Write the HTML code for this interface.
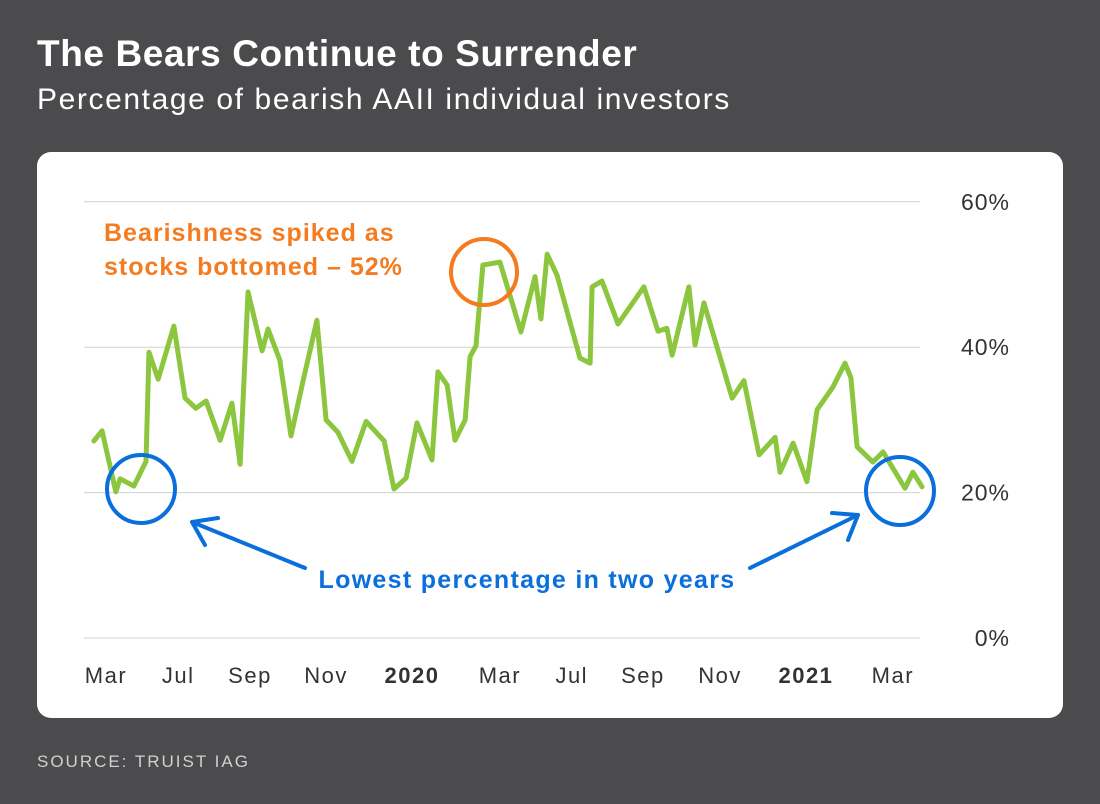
<!DOCTYPE html>
<html><head><meta charset="utf-8"><style>
body{margin:0;width:1100px;height:804px;background:#4b4b4d;font-family:"Liberation Sans",sans-serif;overflow:hidden;position:relative}
#title{position:absolute;left:37px;top:33px;color:#fff;font-size:37px;font-weight:bold;margin:0;letter-spacing:0.6px}
#sub{position:absolute;left:37px;top:83px;color:#fff;font-size:30px;letter-spacing:1.6px}
#card{position:absolute;left:37px;top:152px;width:1026px;height:566px;background:#fff;border-radius:14px}
#src{position:absolute;left:37px;top:752px;color:#d0d0d0;font-size:17px;letter-spacing:2px}
svg{position:absolute;left:0;top:0}
</style></head><body>
<h1 id="title">The Bears Continue to Surrender</h1>
<div id="sub">Percentage of bearish AAII individual investors</div>
<div id="card"></div>
<div id="src">SOURCE: TRUIST IAG</div>
<svg id="chart" width="1100" height="804"></svg>
<script>
const months=[-0.37,-0.12,0.30,0.43,0.85,1.22,1.31,1.59,2.07,2.41,2.74,3.05,3.48,3.84,4.09,4.33,4.76,4.94,5.30,5.64,6.01,6.43,6.71,7.07,7.50,7.93,8.48,8.78,9.15,9.48,9.94,10.12,10.40,10.64,10.95,11.10,11.28,11.49,12.01,12.65,13.08,13.26,13.45,13.75,14.45,14.76,14.82,15.12,15.61,16.40,16.83,17.10,17.26,17.77,17.96,18.23,19.09,19.45,19.91,20.40,20.55,20.95,21.37,21.68,22.16,22.53,22.71,22.90,23.38,23.69,24.36,24.60,24.88];
const bearish=[27.1,28.5,20.1,21.9,20.9,24.3,39.3,35.6,42.9,33.0,31.6,32.6,27.2,32.3,23.9,47.6,39.5,42.5,38.2,27.8,35.4,43.7,30.0,28.3,24.3,29.8,27.1,20.5,22.0,29.6,24.5,36.6,34.8,27.2,30.0,38.7,40.2,51.3,51.7,42.1,49.7,43.9,52.8,49.9,38.5,37.8,48.3,49.1,43.2,48.3,42.2,42.6,38.9,48.3,40.3,46.1,33.0,35.4,25.2,27.6,22.8,26.8,21.5,31.4,34.5,37.8,35.8,26.3,24.2,25.6,20.6,22.8,20.8];
const yTicks=[0,20,40,60];
const xTickMonths=[0,2.2,4.39,6.71,9.33,12.01,14.2,16.37,18.72,21.34,23.99];
const xTickLabels=["Mar","Jul","Sep","Nov","2020","Mar","Jul","Sep","Nov","2021","Mar"];
const xTickBold=[false,false,false,false,true,false,false,false,false,true,false];
const NS="http://www.w3.org/2000/svg";
const svg=document.getElementById('chart');
const X=m=>106+32.8*m;
const Y=v=>638-7.27*v;
function mk(t,a,p){const e=document.createElementNS(NS,t);for(const k in a)e.setAttribute(k,a[k]);(p||svg).appendChild(e);return e;}
yTicks.forEach(t=>{
 const l=mk('line',{x1:84,x2:920,y1:Y(t),y2:Y(t),stroke:'#d0d0d0','stroke-width':1});
 
 
 const tx=mk('text',{x:1010,y:Y(t)+8,'text-anchor':'end','font-size':23,'letter-spacing':1,fill:'#333'});
 tx.textContent=t+'%';
 
 
});
xTickMonths.forEach((m,i)=>{
 const tx=mk('text',{x:X(m),y:683,'text-anchor':'middle','font-size':22,'letter-spacing':1.5,fill:'#333','font-weight':xTickBold[i]?'bold':'normal'});
 tx.textContent=xTickLabels[i];
 
 
});
const pl=mk('polyline',{points:months.map((m,i)=>X(m)+','+Y(bearish[i])).join(' '),fill:'none',stroke:'#8cc63f','stroke-width':5,'stroke-linejoin':'round','stroke-linecap':'round'});


</script>
<svg width="1100" height="804">
<circle cx="484" cy="272" r="33" fill="none" stroke="#f47b20" stroke-width="4"/>
<text x="104" y="241" font-size="25" letter-spacing="1" font-weight="bold" fill="#f47b20">Bearishness spiked as</text>
<text x="104" y="275" font-size="25" letter-spacing="1" font-weight="bold" fill="#f47b20">stocks bottomed – 52%</text>
<circle cx="141" cy="489" r="34" fill="none" stroke="#0a6fdb" stroke-width="4"/>
<circle cx="900" cy="491" r="34" fill="none" stroke="#0a6fdb" stroke-width="4"/>
<text x="527" y="588" text-anchor="middle" font-size="25" letter-spacing="1.3" font-weight="bold" fill="#0a6fdb">Lowest percentage in two years</text>
<g stroke="#0a6fdb" stroke-width="4" fill="none" stroke-linecap="round" stroke-linejoin="round">
<path d="M305,568 L192,522 M205,545 L192,522 L218,518"/>
<path d="M750,568 L858,515 M832,513 L858,515 L848,540"/>
</g>
</svg>
</body></html>
